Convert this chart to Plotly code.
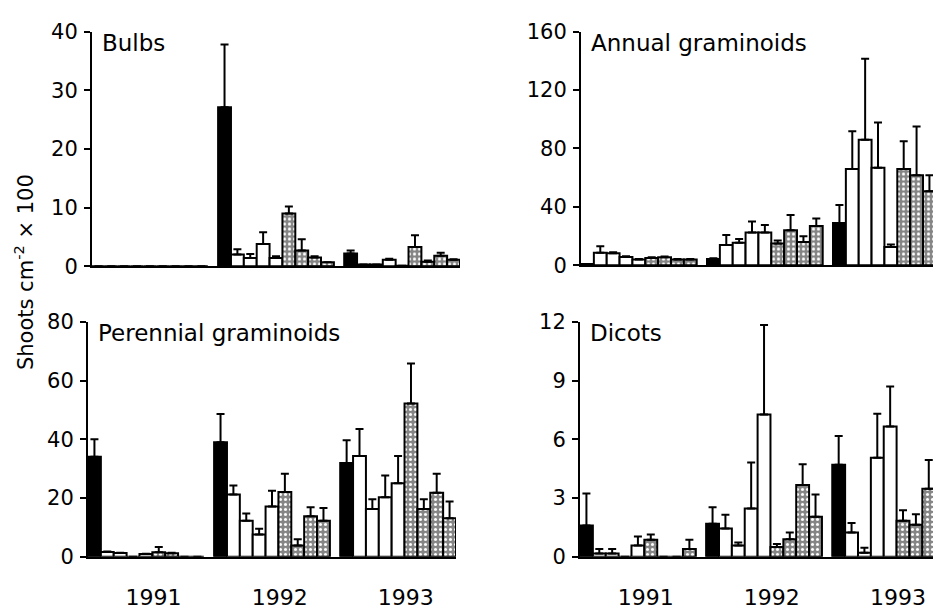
import plotly.graph_objects as go

# ---------------- data ----------------
years = ["1991", "1992", "1993"]
# within each year: control (black), 4 treatments (white), 4 treatments (grey)
bar_kind = ["black", "white", "white", "white", "white", "grey", "grey", "grey", "grey"]

bulbs_mean = [0, 0, 0, 0, 0, 0, 0, 0, 0,
              27.1, 2.0, 1.4, 3.8, 1.4, 9.0, 2.7, 1.5, 0.7,
              2.2, 0.3, 0.3, 1.1, 0.1, 3.3, 0.8, 1.8, 1.1]
bulbs_se = [0, 0, 0, 0, 0, 0, 0, 0, 0,
            10.7, 0.9, 0.7, 2.0, 0.3, 1.2, 1.9, 0.2, 0,
            0.5, 0, 0, 0.2, 0, 2.0, 0.2, 0.5, 0.1]

annual_mean = [1.0, 8.7, 8.3, 5.7, 4.0, 5.0, 5.5, 4.0, 4.0,
               4.4, 14.0, 15.5, 22.5, 22.5, 15.0, 24.0, 16.0, 27.0,
               28.9, 66.0, 86.0, 66.7, 12.5, 66.0, 61.6, 50.7, 49.0]
annual_se = [0, 4.3, 0.7, 0.6, 0.4, 0.5, 0.5, 0.3, 0.3,
             0.4, 6.7, 2.5, 7.5, 5.2, 2.0, 10.5, 4.0, 5.0,
             12.4, 25.8, 55.4, 31.0, 1.7, 19.0, 33.4, 10.9, 10.0]

perennial_mean = [34.1, 1.6, 1.3, 0, 0.9, 1.5, 1.2, 0, 0,
                  39.0, 21.2, 12.3, 7.6, 17.1, 22.1, 3.8, 13.8, 12.3,
                  31.9, 34.3, 16.3, 20.3, 25.0, 52.2, 16.3, 21.8, 13.1]
perennial_se = [5.9, 0.2, 0.1, 0, 0.1, 1.8, 0.2, 0, 0,
                9.6, 3.1, 2.4, 1.9, 5.4, 6.2, 2.2, 3.1, 4.3,
                7.8, 9.2, 3.3, 7.4, 9.3, 13.6, 3.3, 6.5, 5.7]

dicots_mean = [1.6, 0.16, 0.16, 0, 0.57, 0.87, 0, 0, 0.4,
               1.68, 1.44, 0.57, 2.47, 7.27, 0.5, 0.9, 3.67, 2.04,
               4.7, 1.24, 0.21, 5.06, 6.66, 1.84, 1.63, 3.48, 6.5]
dicots_se = [1.63, 0.24, 0.24, 0, 0.46, 0.27, 0, 0, 0.47,
             0.85, 0.7, 0.16, 2.35, 4.57, 0.15, 0.34, 1.06, 1.14,
             1.47, 0.49, 0.25, 2.25, 2.04, 0.53, 0.54, 1.47, 2.94]

bulbs_ticks = [0, 10, 20, 30, 40]
annual_ticks = [0, 40, 80, 120, 160]
perennial_ticks = [0, 20, 40, 60, 80]
dicots_ticks = [0, 3, 6, 9, 12]

y_title = "Shoots cm<sup>-2</sup> × 100"

# ---------------- layout helpers ----------------
PAGE_OFFSET = 8            # default body margin of the html page
W, H = 941 - PAGE_OFFSET, 610 - PAGE_OFFSET
GROUP_STEP = 9.8
FONT = "DejaVu Sans"


def px_x(a, b):
    return [(a - PAGE_OFFSET) / W, min(1.0, (b - PAGE_OFFSET) / W)]


def px_y(top, bottom):
    return [(H - (bottom - PAGE_OFFSET)) / H, (H - (top - PAGE_OFFSET)) / H]


panels = [
    dict(title="Bulbs", mean=bulbs_mean, se=bulbs_se, ticks=bulbs_ticks,
         xdom=(92, 460), ydom=(20, 265), xmax=28.1, bottom=False),
    dict(title="Annual graminoids", mean=annual_mean, se=annual_se, ticks=annual_ticks,
         xdom=(581, 941), ydom=(20, 264), xmax=27.5, bottom=False),
    dict(title="Perennial graminoids", mean=perennial_mean, se=perennial_se, ticks=perennial_ticks,
         xdom=(88, 456), ydom=(323, 568), xmax=28.1, bottom=True),
    dict(title="Dicots", mean=dicots_mean, se=dicots_se, ticks=dicots_ticks,
         xdom=(580, 941), ydom=(323, 568), xmax=27.55, bottom=True),
]

styles = {
    "black": dict(color="black"),
    "white": dict(color="white"),
    "grey": dict(color="#8a8a8a",
                 pattern=dict(shape=".", fgcolor="white", bgcolor="#858585",
                              size=5, solidity=0.3, fillmode="replace")),
}

fig = go.Figure()
layout = dict(width=W, height=H, margin=dict(l=0, r=0, t=0, b=0),
              paper_bgcolor="white", plot_bgcolor="white",
              barmode="overlay", showlegend=False,
              font=dict(family=FONT, color="black"))
annotations = []

for p_i, p in enumerate(panels):
    sfx = "" if p_i == 0 else str(p_i + 1)
    xa, ya = "x" + sfx, "y" + sfx
    for kind in ["black", "white", "grey"]:
        xs, ys, es = [], [], []
        for g in range(len(years)):
            for i, k in enumerate(bar_kind):
                if k != kind:
                    continue
                idx = g * len(bar_kind) + i
                xs.append(g * GROUP_STEP + i)
                ys.append(p["mean"][idx])
                es.append(p["se"][idx])
        marker = dict(line=dict(color="black", width=2), **styles[kind])
        fig.add_trace(go.Bar(
            x=xs, y=ys, width=1.0, xaxis=xa, yaxis=ya, marker=marker,
            error_y=dict(type="data", symmetric=False, array=es,
                         arrayminus=[0] * len(es), color="black",
                         thickness=2, width=4),
        ))
    top = p["ticks"][-1]
    xaxis = dict(domain=px_x(*p["xdom"]), anchor=ya, range=[-0.5, p["xmax"]],
                 showline=True, linecolor="black", linewidth=2,
                 showgrid=False, zeroline=False, ticks="",
                 tickfont=dict(family=FONT, size=22, color="black"))
    if p["bottom"]:
        xaxis.update(tickmode="array",
                     tickvals=[g * GROUP_STEP + 4.6 for g in range(len(years))],
                     ticktext=years, ticklabelstandoff=20)
    else:
        xaxis.update(showticklabels=False)
    yaxis = dict(domain=px_y(*p["ydom"]), anchor=xa, range=[0, top],
                 showline=True, linecolor="black", linewidth=2,
                 showgrid=False, zeroline=False,
                 ticks="outside", ticklen=6, tickwidth=2, tickcolor="black",
                 tickmode="array", tickvals=p["ticks"],
                 tickfont=dict(family=FONT, size=21, color="black"),
                 ticklabelstandoff=2)
    layout["xaxis" + sfx] = xaxis
    layout["yaxis" + sfx] = yaxis
    annotations.append(dict(
        text=p["title"], xref="paper", yref="paper",
        x=(p["xdom"][0] + 8 - PAGE_OFFSET) / W,
        y=(H - (p["ydom"][0] - 4 - PAGE_OFFSET)) / H,
        xanchor="left", yanchor="top", showarrow=False,
        font=dict(family=FONT, size=23, color="black")))

annotations.append(dict(
    text=y_title, xref="paper", yref="paper",
    x=(24 - PAGE_OFFSET) / W, y=(H - (271 - PAGE_OFFSET)) / H,
    xanchor="center", yanchor="middle", textangle=-90, showarrow=False,
    font=dict(family=FONT, size=21, color="black")))

layout["annotations"] = annotations
fig.update_layout(**layout)
fig.write_html("out.html")
